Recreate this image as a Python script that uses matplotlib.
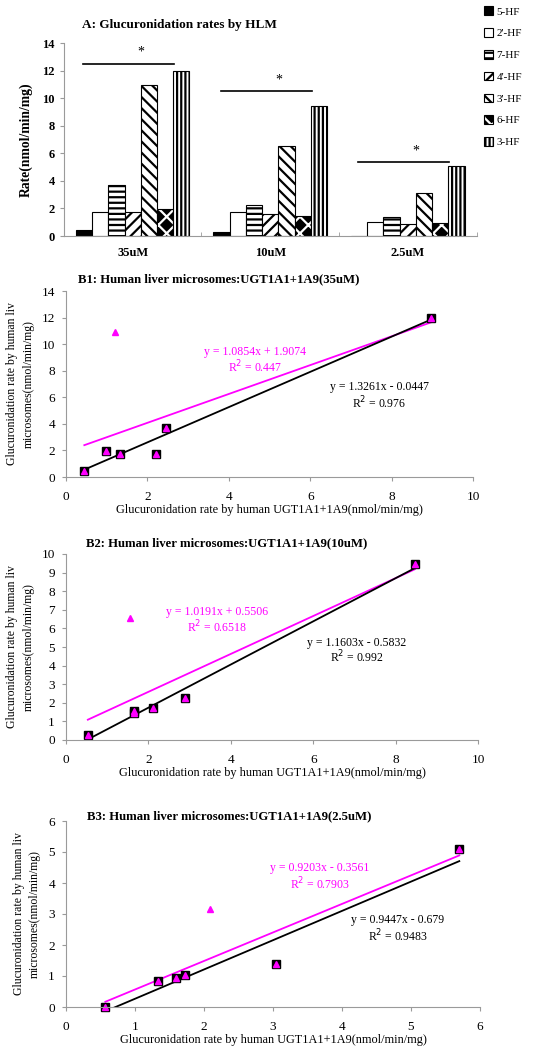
import numpy as np
import matplotlib
matplotlib.use("Agg")
import matplotlib.pyplot as plt
from matplotlib.patches import Patch
from matplotlib.legend_handler import HandlerTuple

plt.rcParams['font.family'] = ['Liberation Serif', 'DejaVu Serif']
plt.rcParams['hatch.linewidth'] = 1.6

# data
compounds = ["5-HF", "2'-HF", "7-HF", "4'-HF", "3'-HF", "6-HF", "3-HF"]
groups = ["35uM", "10uM", "2.5uM"]
hlm_35 = [0.47, 1.74, 3.70, 1.74, 10.94, 1.94, 11.96]
hlm_10 = [0.27, 1.74, 2.28, 1.57, 6.54, 1.45, 9.44]
hlm_25 = [0.0, 1.02, 1.40, 0.85, 3.15, 0.94, 5.10]
sig_y = [12.5, 10.5, 5.4]
star_y = [13.35, 11.3, 6.2]

# UGT1A1+1A9 rates (x of scatter), same compound order
ugt_35 = [0.45, 2.20, 2.46, 1.33, 1.20, 0.99, 8.98]
ugt_10 = [0.53, 2.10, 2.90, 1.64, 1.56, 1.64, 8.47]
ugt_25 = [0.57, 1.73, 3.04, 1.33, 2.08, 1.60, 5.70]

# fitted trend lines: (slope, intercept, r2)
fit_all = [(1.0854, 1.9074, "0.447"), (1.0191, 0.5506, "0.6518"), (0.9203, -0.3561, "0.7903")]
fit_no3p = [(1.3261, -0.0447, "0.976"), (1.1603, -0.5832, "0.992"), (0.9447, -0.679, "0.9483")]

magenta = '#FF00FF'
gray = '#9a9a9a'

fig = plt.figure(figsize=(5.41, 10.5), dpi=100)

# ---------------- panel A ----------------
axA = fig.add_axes([0.118, 0.7752, 0.763, 0.1838])
faces = ['black', 'white', 'white', 'white', 'white', 'white', 'white']
hatches = [None, None, '---', '///', '\\\\\\', 'xx', '||||']
w = 0.118
xg = np.arange(len(groups))
rates = np.array([hlm_35, hlm_10, hlm_25])
handles = []
for i, c in enumerate(compounds):
    pos = xg + (i - 3) * w
    vals = rates[:, i]
    if c == "6-HF":
        axA.bar(pos, vals, w, color='black', edgecolor='white', hatch='xx', linewidth=0)
        axA.bar(pos, vals, w, fill=False, edgecolor='black', linewidth=0.8)
        h = (Patch(facecolor='black', edgecolor='white', hatch='xx', linewidth=0),
             Patch(fill=False, edgecolor='black', linewidth=0.8))
    else:
        axA.bar(pos, vals, w, color=faces[i], edgecolor='black', hatch=hatches[i], linewidth=0.8)
        h = Patch(facecolor=faces[i], edgecolor='black', hatch=hatches[i], linewidth=0.8)
    handles.append(h)

for g in range(len(groups)):
    axA.plot([g - 0.36, g + 0.3], [sig_y[g], sig_y[g]], color='black', lw=1.2)
    axA.text(g + 0.06, star_y[g], '*', ha='center', va='center', fontsize=10)

axA.set_xlim(-0.5, 2.5)
axA.set_ylim(0, 14)
axA.set_yticks(np.arange(0, 15, 2))
axA.set_xticks(xg)
axA.set_xticklabels(groups, fontweight='bold', fontsize=9)
axA.set_xticks([-0.5, 0.5, 1.5, 2.5], minor=True)
for lab in axA.get_yticklabels():
    lab.set_fontweight('bold')
    lab.set_fontsize(9)
axA.tick_params(axis='x', which='major', length=0, pad=8)
axA.tick_params(axis='x', which='minor', length=3, direction='in', color=gray)
axA.tick_params(axis='y', length=3, color=gray)
axA.spines['top'].set_visible(False)
axA.spines['right'].set_visible(False)
axA.spines['left'].set_color(gray)
axA.spines['bottom'].set_color(gray)
axA.set_ylabel('Rate(nmol/min/mg)', fontweight='bold', fontsize=9.8, labelpad=7)
fig.text(82 / 541, 1 - 25 / 1050, 'A: Glucuronidation rates by HLM', fontweight='bold',
         fontsize=9.5, va='center', ha='left')
fig.legend(handles, compounds, loc='upper left', bbox_to_anchor=(480 / 541, 1 - 2 / 1050),
           frameon=False, fontsize=8, handlelength=0.8, handleheight=0.8,
           labelspacing=1.05, handletextpad=0.3, borderaxespad=0,
           handler_map={tuple: HandlerTuple(ndivide=1)})

# ---------------- panels B ----------------
boxes = [[66 / 541, 1 - 477 / 1050, 407 / 541, 186 / 1050],
         [66 / 541, 1 - 740 / 1050, 412 / 541, 186 / 1050],
         [66 / 541, 1 - 1007 / 1050, 414 / 541, 186 / 1050]]
titles = ['B1: Human liver microsomes:UGT1A1+1A9(35uM)',
          'B2: Human liver microsomes:UGT1A1+1A9(10uM)',
          'B3: Human liver microsomes:UGT1A1+1A9(2.5uM)']
title_pos = [(78, 279), (86, 543), (87, 816)]
xlims = [10, 10, 6]
ylims = [14, 10, 6]
yticks = [np.arange(0, 15, 2), np.arange(0, 11, 1), np.arange(0, 7, 1)]
xticks = [np.arange(0, 11, 2), np.arange(0, 11, 2), np.arange(0, 7, 1)]
ugts = [ugt_35, ugt_10, ugt_25]
hlms = [hlm_35, hlm_10, hlm_25]
eq_all_pos = [(4.64, 9.4, 8.3), (3.66, 6.9, 6.1), (3.68, 4.48, 3.97)]
eq_no_pos = [(7.7, 6.8, 5.6), (7.06, 5.2, 4.45), (4.81, 2.8, 2.29)]

for k in range(3):
    ax = fig.add_axes(boxes[k])
    xs = np.array(ugts[k])
    ys = np.array(hlms[k])
    keep = np.array([c != "3'-HF" for c in compounds])

    xa = np.array([xs.min(), xs.max()])
    xb = np.array([xs[keep].min(), xs[keep].max()])
    s, b, r2 = fit_all[k]
    ax.plot(xa, s * xa + b, color=magenta, lw=1.3)
    s2, b2, r22 = fit_no3p[k]
    ax.plot(xb, s2 * xb + b2, color='black', lw=1.3)

    ax.plot(xs[keep], ys[keep], 's', color='black', ms=5.5, ls='none', clip_on=False)
    ax.plot(xs, ys, '^', color=magenta, ms=3.8, ls='none', clip_on=False)

    sign = '+' if b >= 0 else '-'
    ex, ey1, ey2 = eq_all_pos[k]
    ax.text(ex, ey1, 'y = %sx %s %s' % (f'{s:.4f}', sign, f'{abs(b):g}'), color=magenta,
            ha='center', va='center', fontsize=8.5)
    ax.text(ex, ey2, 'R$^2$ = ' + r2, color=magenta, ha='center', va='center', fontsize=8.5)
    sign2 = '+' if b2 >= 0 else '-'
    ex, ey1, ey2 = eq_no_pos[k]
    ax.text(ex, ey1, 'y = %sx %s %s' % (f'{s2:.4f}', sign2, f'{abs(b2):g}'), color='black',
            ha='center', va='center', fontsize=8.5)
    ax.text(ex, ey2, 'R$^2$ = ' + r22, color='black', ha='center', va='center', fontsize=8.5)

    ax.set_xlim(0, xlims[k])
    ax.set_ylim(0, ylims[k])
    ax.set_xticks(xticks[k])
    ax.set_yticks(yticks[k])
    ax.tick_params(labelsize=9.5, length=3, color=gray, pad=5)
    ax.tick_params(axis='x', pad=7)
    ax.spines['top'].set_visible(False)
    ax.spines['right'].set_visible(False)
    ax.spines['left'].set_color(gray)
    ax.spines['bottom'].set_color(gray)
    ax.set_xlabel('Glucuronidation rate by human UGT1A1+1A9(nmol/min/mg)', fontsize=8.8, labelpad=1)
    ax.set_ylabel('Glucuronidation rate by human liv\nmicrosomes(nmol/min/mg)', fontsize=8.5,
                  labelpad=5, linespacing=1.5)
    tx, ty = title_pos[k]
    fig.text(tx / 541, 1 - ty / 1050, titles[k], fontweight='bold', fontsize=9.2,
             ha='left', va='center')

fig.savefig('out.png', dpi=100)
